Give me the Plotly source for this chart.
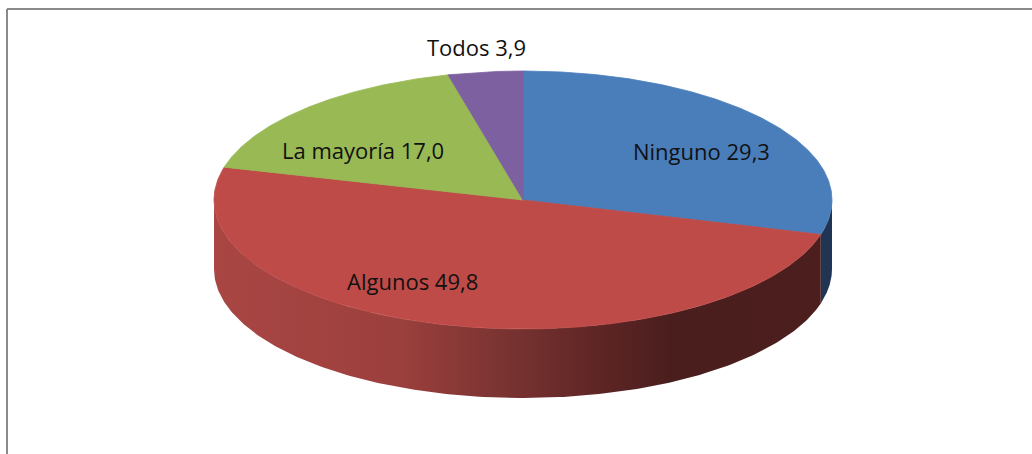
import numpy as np
import plotly.graph_objects as go

# ---- data ----
categories = ["Ninguno", "Algunos", "La mayoría", "Todos"]
values = [29.3, 49.8, 17.0, 3.9]
top_colors = ["#4A7EBB", "#BE4B48", "#98B954", "#7D60A0"]
side_colors = ["#1F3553", "#4C1E1E", "#4F5E2B", "#3F3052"]
red_side_scale = [[0.0, "#A94644"], [0.3, "#9C403D"], [0.47, "#7B3432"],
                  [0.63, "#5F2625"], [0.75, "#4B1E1E"], [1.0, "#4C1E1E"]]

# label placement (pixel-like layout positions)
label_x = [701, 412, 363, 476]
label_y = [151, 281, 150, 47]

# ---- geometry (layout) ----
W, H = 1032, 454
cx, cy, rx, ry, depth = 523, 200, 309, 129, 69

def pt(theta_deg, dy=0.0):
    t = np.radians(theta_deg)
    return cx + rx * np.sin(t), cy - ry * np.cos(t) + dy

fig = go.Figure()

total = sum(values)
bounds = np.concatenate([[0], np.cumsum(values) / total * 360.0])

# side faces (front half only: 90..270 degrees)
for i, v in enumerate(values):
    a, b = bounds[i], bounds[i + 1]
    lo, hi = max(a, 90.0), min(b, 270.0)
    if hi <= lo:
        continue
    th = np.linspace(lo, hi, 200)
    xt, yt = pt(th)
    xb, yb = pt(th[::-1], depth)
    xs = np.concatenate([xt, xb, xt[:1]])
    ys = np.concatenate([yt, yb, yt[:1]])
    kw = dict(fillcolor=side_colors[i])
    if categories[i] == "Algunos":
        kw = dict(fillgradient=dict(type="horizontal", colorscale=red_side_scale))
    fig.add_trace(go.Scatter(x=xs, y=ys, mode="lines", fill="toself",
                             line=dict(width=0, color=side_colors[i]),
                             hoverinfo="skip", showlegend=False, **kw))

# top faces
for i, v in enumerate(values):
    a, b = bounds[i], bounds[i + 1]
    th = np.linspace(a, b, 300)
    xa, ya = pt(th)
    xs = np.concatenate([[cx], xa, [cx]])
    ys = np.concatenate([[cy], ya, [cy]])
    fig.add_trace(go.Scatter(x=xs, y=ys, mode="lines", fill="toself",
                             fillcolor=top_colors[i],
                             line=dict(width=0.8, color=top_colors[i]),
                             hoverinfo="skip", showlegend=False))

# labels
for i, (c, v) in enumerate(zip(categories, values)):
    txt = f"{c} {v:.1f}".replace(".", ",")
    fig.add_annotation(x=label_x[i], y=label_y[i], text=txt, showarrow=False,
                       xanchor="center", yanchor="middle",
                       font=dict(family="Open Sans", size=22, color="#111111"))

# chart border (top and left visible)
fig.add_shape(type="line", xref="x", yref="y", x0=7, x1=W, y0=9, y1=9,
              line=dict(color="#8A8A8A", width=2))
fig.add_shape(type="line", xref="x", yref="y", x0=7, x1=7, y0=9, y1=H,
              line=dict(color="#8A8A8A", width=2))

fig.update_layout(
    width=W, height=H,
    margin=dict(l=0, r=0, t=0, b=0),
    paper_bgcolor="white", plot_bgcolor="white",
    xaxis=dict(range=[0, W], visible=False, fixedrange=True),
    yaxis=dict(range=[H, 0], visible=False, fixedrange=True),
    showlegend=False,
)

fig.write_html("out.html", config={"displayModeBar": False},
               post_script="document.body.style.margin='0px';")
